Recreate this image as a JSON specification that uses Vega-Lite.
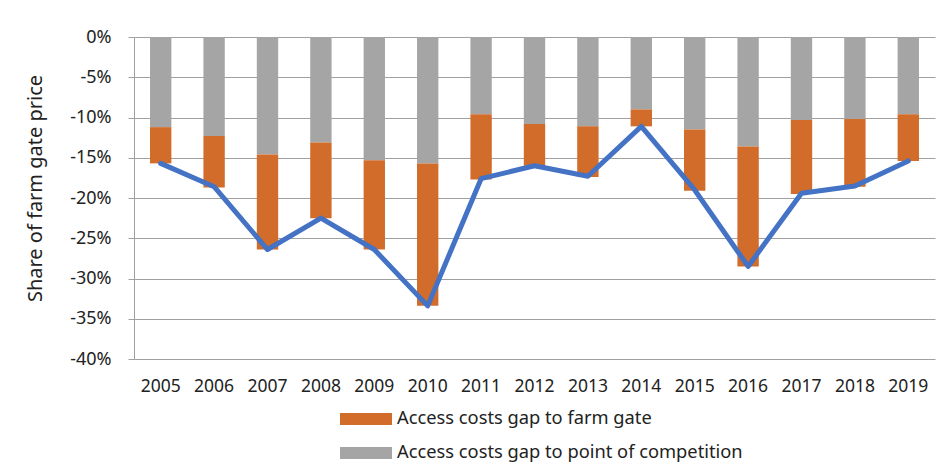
{
  "$schema": "https://vega.github.io/schema/vega-lite/v6.json",
  "width": 801,
  "height": 322,
  "autosize": {"type": "none"},
  "padding": {"left": 134, "top": 37, "right": 14, "bottom": 105},
  "background": "white",
  "config": {
    "font": "Noto Sans",
    "view": {"stroke": null},
    "axis": {"labelFont": "Noto Sans", "titleFont": "Noto Sans"}
  },
  "datasets": {
    "bars": [
      {"year": "2005", "series": "Access costs gap to point of competition", "value": -11.2},
      {"year": "2005", "series": "Access costs gap to farm gate", "value": -4.5},
      {"year": "2006", "series": "Access costs gap to point of competition", "value": -12.3},
      {"year": "2006", "series": "Access costs gap to farm gate", "value": -6.4},
      {"year": "2007", "series": "Access costs gap to point of competition", "value": -14.6},
      {"year": "2007", "series": "Access costs gap to farm gate", "value": -11.8},
      {"year": "2008", "series": "Access costs gap to point of competition", "value": -13.1},
      {"year": "2008", "series": "Access costs gap to farm gate", "value": -9.4},
      {"year": "2009", "series": "Access costs gap to point of competition", "value": -15.3},
      {"year": "2009", "series": "Access costs gap to farm gate", "value": -11.1},
      {"year": "2010", "series": "Access costs gap to point of competition", "value": -15.7},
      {"year": "2010", "series": "Access costs gap to farm gate", "value": -17.7},
      {"year": "2011", "series": "Access costs gap to point of competition", "value": -9.6},
      {"year": "2011", "series": "Access costs gap to farm gate", "value": -8.1},
      {"year": "2012", "series": "Access costs gap to point of competition", "value": -10.8},
      {"year": "2012", "series": "Access costs gap to farm gate", "value": -5.2},
      {"year": "2013", "series": "Access costs gap to point of competition", "value": -11.1},
      {"year": "2013", "series": "Access costs gap to farm gate", "value": -6.3},
      {"year": "2014", "series": "Access costs gap to point of competition", "value": -9.0},
      {"year": "2014", "series": "Access costs gap to farm gate", "value": -2.1},
      {"year": "2015", "series": "Access costs gap to point of competition", "value": -11.5},
      {"year": "2015", "series": "Access costs gap to farm gate", "value": -7.6},
      {"year": "2016", "series": "Access costs gap to point of competition", "value": -13.6},
      {"year": "2016", "series": "Access costs gap to farm gate", "value": -14.9},
      {"year": "2017", "series": "Access costs gap to point of competition", "value": -10.3},
      {"year": "2017", "series": "Access costs gap to farm gate", "value": -9.2},
      {"year": "2018", "series": "Access costs gap to point of competition", "value": -10.2},
      {"year": "2018", "series": "Access costs gap to farm gate", "value": -8.4},
      {"year": "2019", "series": "Access costs gap to point of competition", "value": -9.6},
      {"year": "2019", "series": "Access costs gap to farm gate", "value": -5.8}
    ],
    "totals": [
      {"year": "2005", "total": -15.7},
      {"year": "2006", "total": -18.6},
      {"year": "2007", "total": -26.4},
      {"year": "2008", "total": -22.5},
      {"year": "2009", "total": -26.4},
      {"year": "2010", "total": -33.4},
      {"year": "2011", "total": -17.6},
      {"year": "2012", "total": -16.0},
      {"year": "2013", "total": -17.3},
      {"year": "2014", "total": -11.1},
      {"year": "2015", "total": -19.0},
      {"year": "2016", "total": -28.5},
      {"year": "2017", "total": -19.4},
      {"year": "2018", "total": -18.5},
      {"year": "2019", "total": -15.4}
    ]
  },
  "encoding": {
    "x": {
      "field": "year",
      "type": "nominal",
      "sort": null,
      "scale": {"paddingInner": 0.6, "paddingOuter": 0.3},
      "axis": {
        "title": null,
        "labelAngle": 0,
        "labelFontSize": 17.5,
        "labelColor": "#222222",
        "labelPadding": 18,
        "ticks": false,
        "domain": false
      }
    }
  },
  "layer": [
    {
      "data": {"name": "bars"},
      "mark": {"type": "bar"},
      "encoding": {
        "y": {
          "field": "value",
          "type": "quantitative",
          "stack": "zero",
          "scale": {"domain": [-40, 0], "nice": false},
          "axis": {
            "title": "Share of farm gate price",
            "titleFontSize": 20,
            "titleFontWeight": "normal",
            "titleColor": "#222222",
            "titlePadding": 24,
            "titleY": 151,
            "values": [0, -5, -10, -15, -20, -25, -30, -35, -40],
            "labelExpr": "datum.value + '%'",
            "labelFontSize": 18,
            "labelColor": "#222222",
            "labelPadding": 17,
            "tickSize": 6,
            "tickColor": "#a0a0a0",
            "domainColor": "#a0a0a0",
            "gridColor": "#a0a0a0",
            "gridWidth": 1.2
          }
        },
        "color": {
          "field": "series",
          "type": "nominal",
          "scale": {
            "domain": ["Access costs gap to farm gate", "Access costs gap to point of competition"],
            "range": ["#D16C2B", "#A5A5A5"]
          },
          "legend": {
            "title": null,
            "orient": "none",
            "legendX": 219,
            "legendY": 369,
            "direction": "vertical",
            "symbolType": "M-2,-0.46H2V0.46H-2Z",
            "symbolSize": 676,
            "symbolStrokeWidth": 0,
            "labelFontSize": 18.3,
            "labelColor": "#222222",
            "rowPadding": 12,
            "labelOffset": 18,
            "labelLimit": 600
          }
        },
        "order": {"field": "series", "sort": "descending"}
      }
    },
    {
      "data": {"name": "totals"},
      "mark": {"type": "line", "color": "#4472C4", "strokeWidth": 5, "strokeJoin": "round", "strokeCap": "round"},
      "encoding": {
        "y": {"field": "total", "type": "quantitative"}
      }
    }
  ]
}
